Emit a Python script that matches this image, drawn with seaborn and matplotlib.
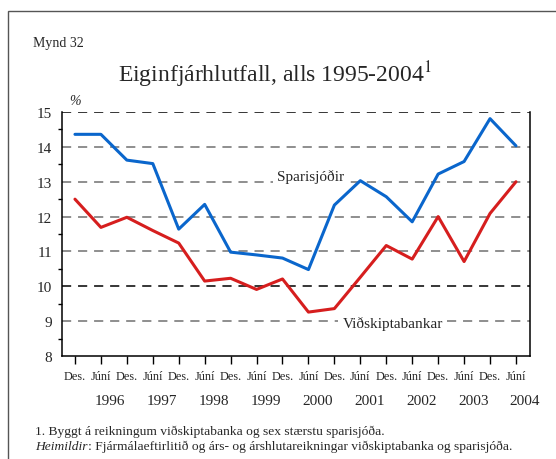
import matplotlib.pyplot as plt
import seaborn as sns
import pandas as pd
import numpy as np
from matplotlib.patches import Rectangle

# data: Des. 1995 .. Júní 2004, half-yearly
periods = ["Des.", "Júní"] * 9
years = ["1996", "1997", "1998", "1999", "2000", "2001", "2002", "2003", "2004"]
sparisjodir = [14.36, 14.36, 13.62, 13.52, 11.64, 12.35, 10.98, 10.90, 10.81,
               10.48, 12.33, 13.03, 12.57, 11.85, 13.22, 13.58, 14.81, 14.03]
vidskiptabankar = [12.50, 11.69, 11.98, 11.60, 11.24, 10.15, 10.23, 9.91, 10.21,
                   9.26, 9.36, 10.26, 11.17, 10.78, 12.00, 10.71, 12.09, 13.00]

df = pd.DataFrame({
    "t": np.arange(len(periods)),
    "Sparisjóðir": sparisjodir,
    "Viðskiptabankar": vidskiptabankar,
}).melt(id_vars="t", var_name="hópur", value_name="hlutfall")

sns.set_theme(style="white")
plt.rcParams['font.family'] = ['Liberation Serif', 'DejaVu Serif']
plt.rcParams['mathtext.fontset'] = 'stix'

fig = plt.figure(figsize=(5.56, 4.60), dpi=100)
ax = fig.add_axes([0.1115, 0.2239, 0.8417, 0.5304])

# grid lines first so the series draw on top
for v in range(9, 16):
    col = "black" if v in (10, 15) else "#707070"
    ax.axhline(v, color=col, lw=1.1, ls=(0, (6, 4.5)), zorder=1)

sns.lineplot(data=df, x="t", y="hlutfall", hue="hópur",
             palette={"Sparisjóðir": "#0a66cc", "Viðskiptabankar": "#d61e1e"},
             lw=2.2, legend=False, ax=ax, zorder=3)

ax.set_xlim(-0.5, 17.54)
ax.set_ylim(8, 15)
ax.set_xlabel("")
ax.set_ylabel("")

ax.set_yticks(range(8, 16))
ax.set_yticklabels([str(v) for v in range(8, 16)], fontsize=11)
ax.set_yticks(np.arange(8.5, 15, 1), minor=True)
ax.tick_params(axis="y", which="major", direction="inout", length=10, width=1, color="black", pad=2)
ax.tick_params(axis="y", which="minor", direction="out", length=3, width=1, color="black", left=True)

ax.set_xticks(range(len(periods)))
ax.set_xticklabels(periods, fontsize=8.8)
ax.tick_params(axis="x", which="major", direction="out", length=6, width=1, color="black", pad=4, bottom=True)

for i, yr in enumerate(years):
    ax.text(2 * i + 1.35, -0.155, yr, transform=ax.get_xaxis_transform(),
            ha="center", va="top", fontsize=11)

for side in ["left", "right", "bottom"]:
    ax.spines[side].set_visible(True)
    ax.spines[side].set_color("black")
    ax.spines[side].set_linewidth(1.1)
ax.spines["top"].set_visible(False)

ax.text(9.1, 13.15, "Sparisjóðir", fontsize=11, ha="center", va="center",
        bbox=dict(facecolor="white", edgecolor="none", pad=3), zorder=2)
ax.text(12.25, 8.95, "Viðskiptabankar", fontsize=11, ha="center", va="center",
        bbox=dict(facecolor="white", edgecolor="none", pad=3), zorder=2)

ax.text(0.0, 15.15, "%", fontsize=10, style="italic", ha="center", va="bottom")

fig.text(33 / 556, 1 - 43 / 460, "Mynd 32", fontsize=10, ha="left", va="center")
fig.text(275 / 556, 1 - 75 / 460, "Eiginfjárhlutfall, alls 1995-2004$^{1}$",
         fontsize=17, ha="center", va="center")

fig.text(35 / 556, 1 - 432 / 460, "1. Byggt á reikningum viðskiptabanka og sex stærstu sparisjóða.",
         fontsize=9.7, ha="left", va="center")
heim = fig.text(35 / 556, 1 - 447 / 460, "Heimildir", fontsize=9.7, style="italic",
                ha="left", va="center")
fig.canvas.draw()
bb = heim.get_window_extent(renderer=fig.canvas.get_renderer())
fig.text(bb.x1 / fig.bbox.width, 1 - 447 / 460,
         ": Fjármálaeftirlitið og árs- og árshlutareikningar viðskiptabanka og sparisjóða.",
         fontsize=9.7, ha="left", va="center")

# outer frame of the figure box
fig.patches.append(Rectangle((8 / 556, -0.1), 1.2, 1.1 - 12 / 460, transform=fig.transFigure,
                             fill=False, edgecolor="#555555", lw=1, clip_on=False))

fig.savefig("out.png", dpi=100)
